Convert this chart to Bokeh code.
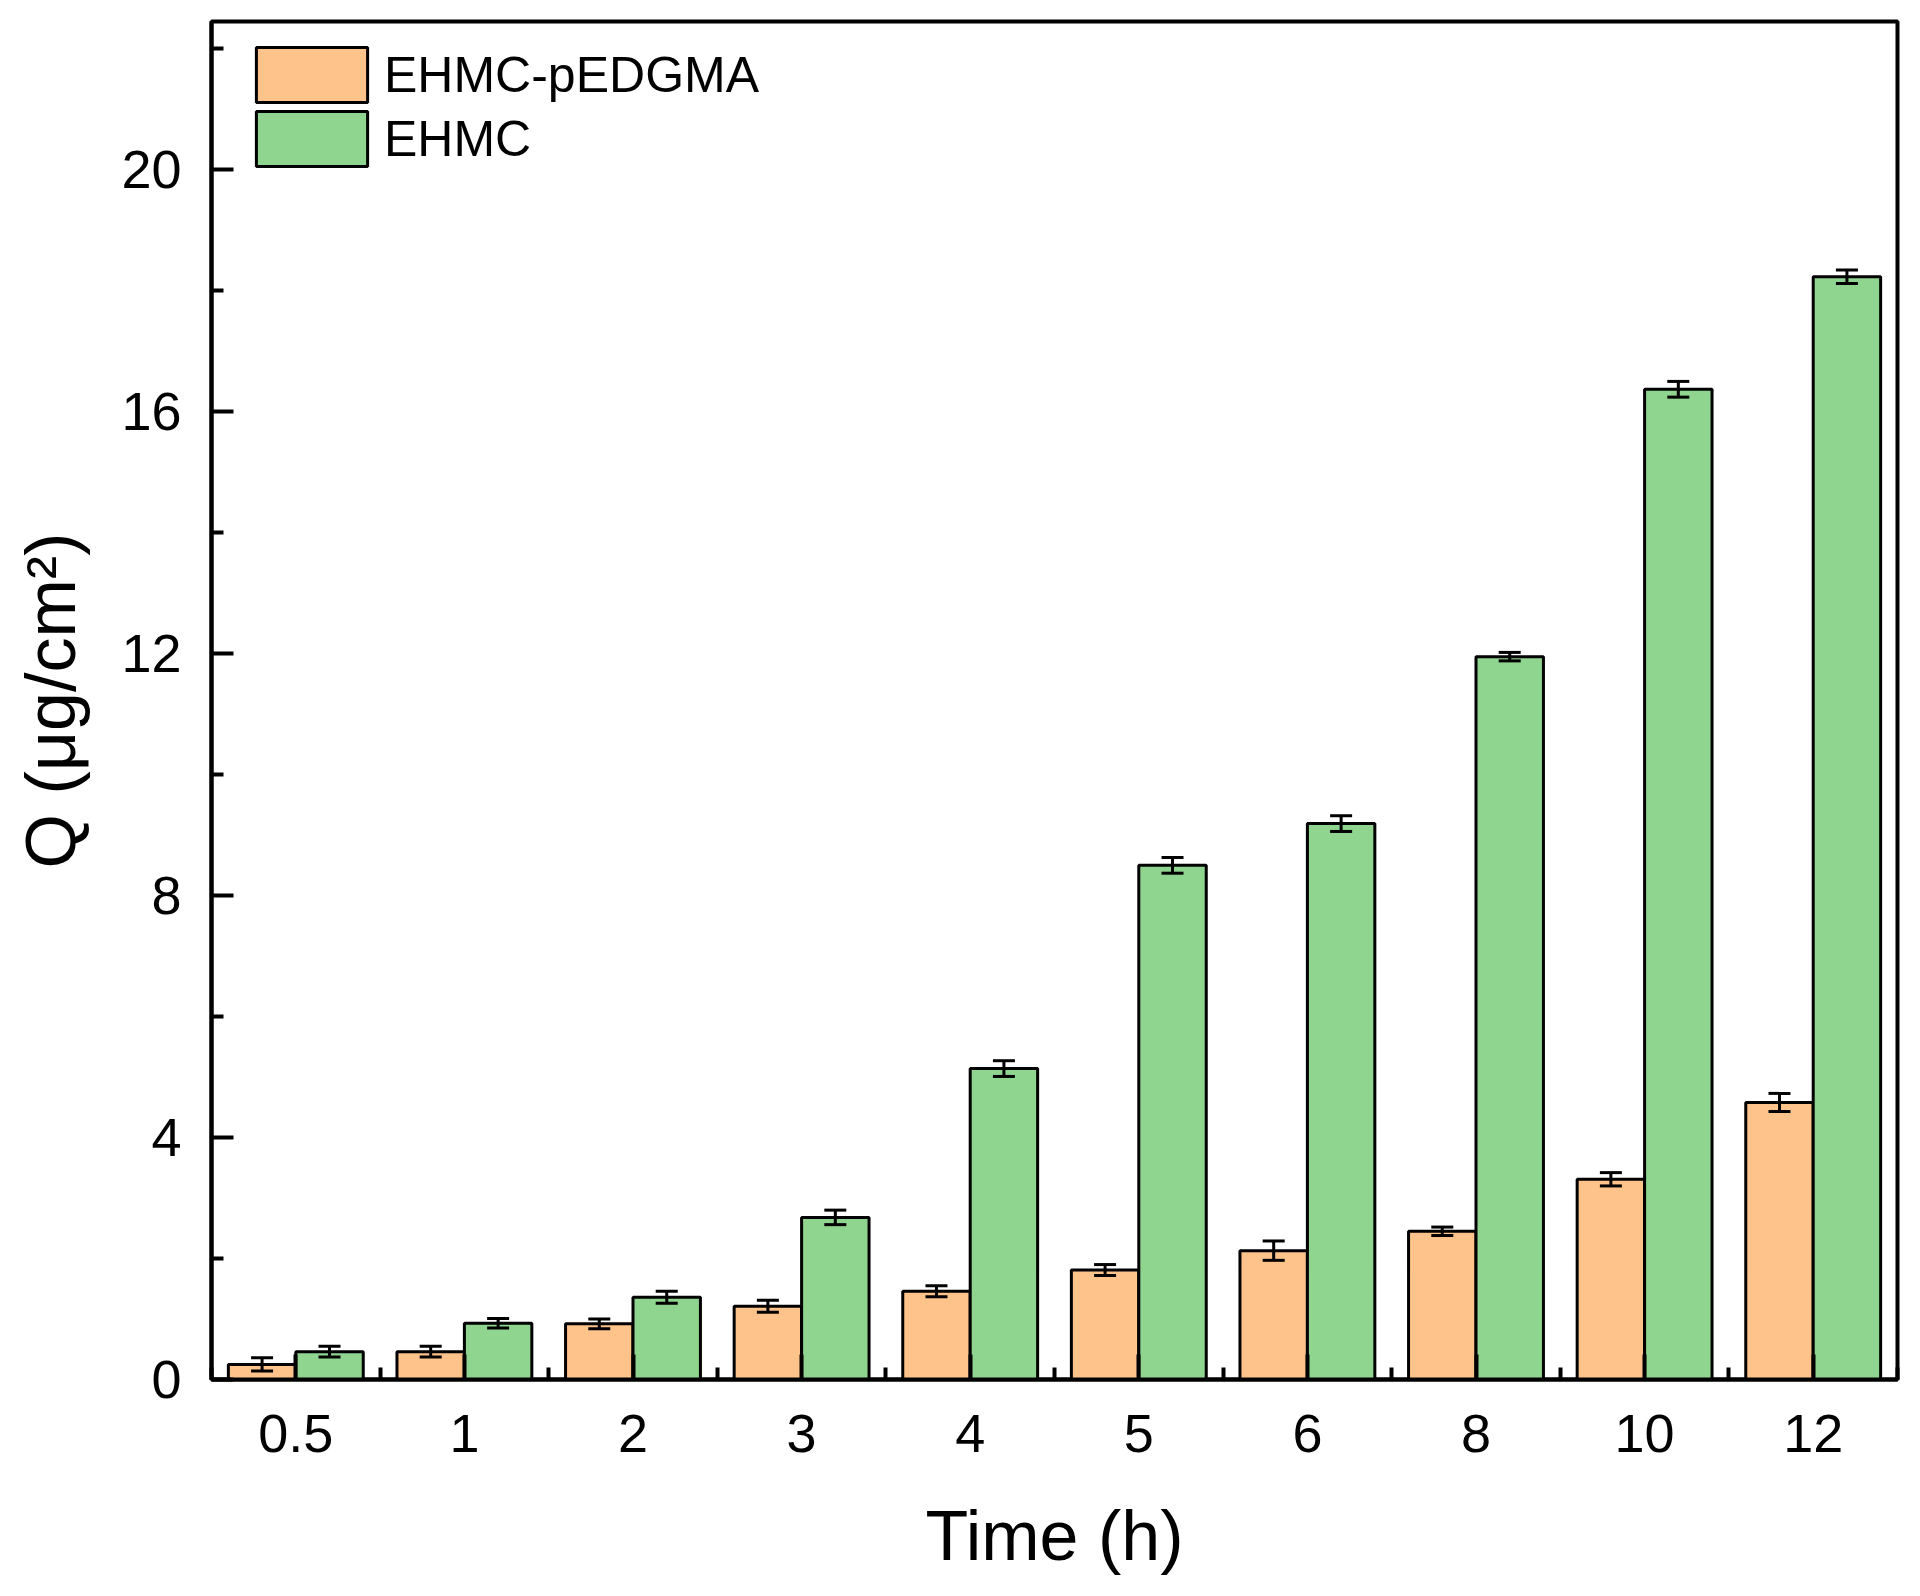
from bokeh.plotting import figure
from bokeh.models import (ColumnDataSource, Range1d, FixedTicker, Whisker, TeeHead,
                          Legend, LegendItem)
from bokeh.transform import dodge
from bokeh.embed import file_html
from bokeh.resources import INLINE

# ---- data ----
times = ["0.5", "1", "2", "3", "4", "5", "6", "8", "10", "12"]
q_pedgma = [0.25, 0.46, 0.92, 1.21, 1.46, 1.81, 2.13, 2.45, 3.31, 4.58]
err_pedgma = [0.11, 0.09, 0.08, 0.10, 0.09, 0.09, 0.16, 0.07, 0.11, 0.15]
q_ehmc = [0.46, 0.93, 1.36, 2.68, 5.14, 8.50, 9.19, 11.95, 16.37, 18.23]
err_ehmc = [0.09, 0.08, 0.10, 0.12, 0.13, 0.13, 0.13, 0.07, 0.13, 0.11]
series_names = ["EHMC-pEDGMA", "EHMC"]
y_ticks = [0, 4, 8, 12, 16, 20]
y_minor = [2, 6, 10, 14, 18, 22]

ORANGE = "#FEC38B"
GREEN = "#8FD48F"
FONT = "Liberation Sans"

idx = list(range(len(times)))
src = ColumnDataSource(dict(
    x=idx,
    a=q_pedgma, ea=err_pedgma,
    b=q_ehmc, eb=err_ehmc,
    a_up=[v + e for v, e in zip(q_pedgma, err_pedgma)],
    a_lo=[v - e for v, e in zip(q_pedgma, err_pedgma)],
    b_up=[v + e for v, e in zip(q_ehmc, err_ehmc)],
    b_lo=[v - e for v, e in zip(q_ehmc, err_ehmc)],
))

p = figure(
    output_backend="svg", toolbar_location=None,
    frame_width=1686, frame_height=1358,
    min_border_left=211, min_border_right=8, min_border_top=21, min_border_bottom=205,
    x_range=Range1d(-0.5, len(times) - 0.5), y_range=Range1d(0, 22.45),
)
p.xgrid.visible = False
p.ygrid.visible = False
p.background_fill_color = "white"
p.border_fill_color = "white"
p.outline_line_color = "black"
p.outline_line_width = 4

ra = p.vbar(x=dodge("x", -0.2), top="a", width=0.4, source=src,
            fill_color=ORANGE, line_color="black", line_width=3)
rb = p.vbar(x=dodge("x", 0.2), top="b", width=0.4, source=src,
            fill_color=GREEN, line_color="black", line_width=3)

for base_off, up, lo in [(-0.2, "a_up", "a_lo"), (0.2, "b_up", "b_lo")]:
    w = Whisker(base=dodge("x", base_off), upper=up, lower=lo, source=src,
                line_color="black", line_width=3, level="overlay",
                upper_head=TeeHead(size=22, line_width=3, line_color="black"),
                lower_head=TeeHead(size=22, line_width=3, line_color="black"))
    p.add_layout(w)

# x axis
p.xaxis.ticker = FixedTicker(ticks=idx, minor_ticks=[i - 0.5 for i in idx] + [len(idx) - 0.5])
p.xaxis.major_label_overrides = {i: t for i, t in zip(idx, times)}
p.xaxis.axis_label = "Time (h)"
# y axis
p.yaxis.ticker = FixedTicker(ticks=y_ticks, minor_ticks=y_minor)
p.yaxis.axis_label = "Q (μg/cm²)"

for ax in (p.xaxis[0], p.yaxis[0]):
    ax.axis_line_width = 4
    ax.axis_line_color = "black"
    ax.major_tick_line_width = 4
    ax.minor_tick_line_width = 4
    ax.major_tick_out = 0
    ax.minor_tick_out = 0
    ax.major_label_text_font = FONT
    ax.major_label_text_font_size = "54px"
    ax.major_label_text_color = "black"
    ax.axis_label_text_font = FONT
    ax.axis_label_text_font_size = "70px"
    ax.axis_label_text_font_style = "normal"
    ax.axis_label_text_color = "black"

p.xaxis.major_tick_in = 25
p.xaxis.minor_tick_in = 12
p.xaxis.major_label_standoff = 35
p.xaxis.axis_label_standoff = 42
p.yaxis.major_tick_in = 22
p.yaxis.minor_tick_in = 12
p.yaxis.major_label_standoff = 30
p.yaxis.axis_label_standoff = 28

for name, rend, loc in [(series_names[0], ra, (31, 1270)), (series_names[1], rb, (31, 1206))]:
    legend = Legend(items=[LegendItem(label=name, renderers=[rend])],
                    location=loc, padding=0, margin=0, spacing=0,
                    glyph_width=139, glyph_height=69, label_height=55,
                    label_standoff=3, border_line_color=None,
                    background_fill_alpha=0,
                    label_text_font=FONT, label_text_font_size="50px",
                    label_text_color="black")
    p.add_layout(legend)

open("out.html", "w").write(file_html(p, INLINE))
